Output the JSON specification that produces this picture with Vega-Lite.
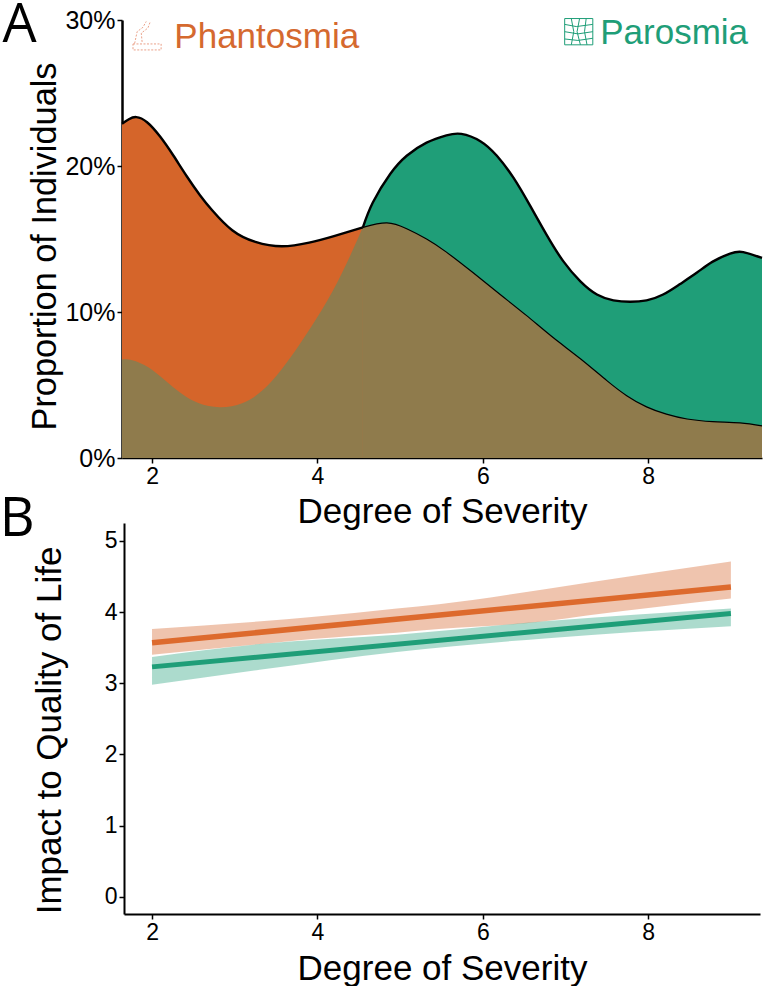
{"$schema":"https://vega.github.io/schema/vega-lite/v6.json","padding":{"left":-1,"top":-2,"right":0,"bottom":0},"background":"white","bounds":"flush","spacing":65,"config":{"font":"Liberation Sans","view":{"stroke":null},"axis":{"grid":false,"domainColor":"black","tickColor":"black","labelColor":"black","titleColor":"black","labelFont":"Liberation Sans","titleFont":"Liberation Sans","labelFontSize":23,"titleFontSize":35,"titleFontWeight":"normal","tickSize":5,"labelPadding":2}},"datasets":{"density":[{"part":"phL","x":1.637,"y":22.9},{"part":"phL","x":1.72,"y":23.2},{"part":"phL","x":1.81,"y":23.35},{"part":"phL","x":1.94,"y":23.0},{"part":"phL","x":2.1,"y":22.0},{"part":"phL","x":2.26,"y":20.7},{"part":"phL","x":2.42,"y":19.3},{"part":"phL","x":2.58,"y":18.0},{"part":"phL","x":2.73,"y":16.95},{"part":"phL","x":2.97,"y":15.6},{"part":"phL","x":3.25,"y":14.8},{"part":"phL","x":3.57,"y":14.5},{"part":"phL","x":3.9,"y":14.75},{"part":"phL","x":4.2,"y":15.2},{"part":"phL","x":4.55,"y":15.8},{"part":"paL","x":1.637,"y":6.75},{"part":"paL","x":1.76,"y":6.7},{"part":"paL","x":1.96,"y":6.2},{"part":"paL","x":2.16,"y":5.3},{"part":"paL","x":2.36,"y":4.4},{"part":"paL","x":2.56,"y":3.77},{"part":"paL","x":2.82,"y":3.48},{"part":"paL","x":3.09,"y":3.75},{"part":"paL","x":3.33,"y":4.6},{"part":"paL","x":3.57,"y":6.1},{"part":"paL","x":3.81,"y":8.0},{"part":"paL","x":4.06,"y":10.2},{"part":"paL","x":4.3,"y":12.7},{"part":"paL","x":4.55,"y":15.8},{"part":"paR","x":4.55,"y":15.8},{"part":"paR","x":4.67,"y":17.5},{"part":"paR","x":4.88,"y":19.45},{"part":"paR","x":5.08,"y":20.7},{"part":"paR","x":5.32,"y":21.6},{"part":"paR","x":5.56,"y":22.1},{"part":"paR","x":5.74,"y":22.2},{"part":"paR","x":5.97,"y":21.7},{"part":"paR","x":6.17,"y":20.7},{"part":"paR","x":6.37,"y":19.2},{"part":"paR","x":6.57,"y":17.3},{"part":"paR","x":6.77,"y":15.3},{"part":"paR","x":6.97,"y":13.5},{"part":"paR","x":7.18,"y":12.1},{"part":"paR","x":7.38,"y":11.2},{"part":"paR","x":7.58,"y":10.8},{"part":"paR","x":7.78,"y":10.7},{"part":"paR","x":7.98,"y":10.8},{"part":"paR","x":8.18,"y":11.2},{"part":"paR","x":8.38,"y":11.9},{"part":"paR","x":8.59,"y":12.7},{"part":"paR","x":8.78,"y":13.45},{"part":"paR","x":8.99,"y":14.0},{"part":"paR","x":9.15,"y":14.1},{"part":"paR","x":9.376,"y":13.7},{"part":"phR","x":4.55,"y":15.8},{"part":"phR","x":4.84,"y":16.1},{"part":"phR","x":5.08,"y":15.7},{"part":"phR","x":5.32,"y":15.0},{"part":"phR","x":5.56,"y":14.1},{"part":"phR","x":5.88,"y":12.7},{"part":"phR","x":6.21,"y":11.2},{"part":"phR","x":6.53,"y":9.75},{"part":"phR","x":6.85,"y":8.25},{"part":"phR","x":7.18,"y":6.8},{"part":"phR","x":7.5,"y":5.3},{"part":"phR","x":7.74,"y":4.27},{"part":"phR","x":7.98,"y":3.5},{"part":"phR","x":8.22,"y":3.0},{"part":"phR","x":8.47,"y":2.67},{"part":"phR","x":8.78,"y":2.49},{"part":"phR","x":9.11,"y":2.4},{"part":"phR","x":9.376,"y":2.2}],"impact":[{"x":2,"group":"Phantosmia","low":3.4,"high":3.76},{"x":3.32,"group":"Phantosmia","low":3.55,"high":3.87},{"x":3.93,"group":"Phantosmia","low":3.62,"high":3.93},{"x":4.96,"group":"Phantosmia","low":3.71,"high":4.05},{"x":5.47,"group":"Phantosmia","low":3.76,"high":4.11},{"x":6.75,"group":"Phantosmia","low":3.87,"high":4.32},{"x":7.26,"group":"Phantosmia","low":3.95,"high":4.41},{"x":9,"group":"Phantosmia","low":4.19,"high":4.71},{"x":2,"group":"Parosmia","low":2.98,"high":3.37},{"x":3.3,"group":"Parosmia","low":3.19,"high":3.55},{"x":4.96,"group":"Parosmia","low":3.44,"high":3.68},{"x":6.75,"group":"Parosmia","low":3.63,"high":3.87},{"x":9,"group":"Parosmia","low":3.8,"high":4.05}],"fit":[{"group":"Phantosmia","x":2,"mid":3.57},{"group":"Phantosmia","x":9,"mid":4.35},{"group":"Parosmia","x":2,"mid":3.23},{"group":"Parosmia","x":9,"mid":3.98}],"labelsA":[{"x":0.4,"y":28.5,"t":"A","c":"letter"},{"x":2.27,"y":28.08,"t":"Phantosmia","c":"Phantosmia"},{"x":7.42,"y":28.36,"t":"Parosmia","c":"Parosmia"}],"iconPar":[{"s":"h1","o":1,"x":6.99,"y":30.1},{"s":"h1","o":2,"x":7.33,"y":30.1},{"s":"h2","o":1,"x":6.99,"y":29.7},{"s":"h2","o":2,"x":7.13,"y":29.55},{"s":"h2","o":3,"x":7.33,"y":29.7},{"s":"h3","o":1,"x":6.99,"y":29.2},{"s":"h3","o":2,"x":7.15,"y":29.05},{"s":"h3","o":3,"x":7.33,"y":29.2},{"s":"h4","o":1,"x":6.99,"y":28.7},{"s":"h4","o":2,"x":7.15,"y":28.6},{"s":"h4","o":3,"x":7.33,"y":28.75},{"s":"h5","o":1,"x":6.99,"y":28.3},{"s":"h5","o":2,"x":7.33,"y":28.3},{"s":"v1","o":1,"x":6.99,"y":30.1},{"s":"v1","o":2,"x":6.99,"y":28.3},{"s":"v2","o":1,"x":7.07,"y":30.1},{"s":"v2","o":2,"x":7.1,"y":29.2},{"s":"v2","o":3,"x":7.07,"y":28.3},{"s":"v3","o":1,"x":7.17,"y":30.1},{"s":"v3","o":2,"x":7.14,"y":29.2},{"s":"v3","o":3,"x":7.18,"y":28.3},{"s":"v4","o":1,"x":7.25,"y":30.1},{"s":"v4","o":2,"x":7.23,"y":29.2},{"s":"v4","o":3,"x":7.26,"y":28.3},{"s":"v5","o":1,"x":7.33,"y":30.1},{"s":"v5","o":2,"x":7.33,"y":28.3}],"iconPha":[{"s":"a","o":1,"x":1.77,"y":28.36},{"s":"a","o":2,"x":2.11,"y":28.36},{"s":"a","o":3,"x":2.11,"y":27.95},{"s":"a","o":4,"x":1.77,"y":27.95},{"s":"a","o":5,"x":1.77,"y":28.36},{"s":"b","o":1,"x":1.79,"y":28.4},{"s":"b","o":2,"x":1.82,"y":29.2},{"s":"b","o":3,"x":1.89,"y":29.5},{"s":"b","o":4,"x":1.93,"y":29.9},{"s":"c","o":1,"x":1.88,"y":28.5},{"s":"c","o":2,"x":1.87,"y":29.1},{"s":"c","o":3,"x":1.95,"y":29.45},{"s":"c","o":4,"x":1.98,"y":29.9}],"labelB":[{"x":0.37,"y":5.07,"t":"B"}]},"vconcat":[{"width":640,"height":438,"layer":[{"data":{"name":"density"},"transform":[{"filter":"datum.part == 'phL'"}],"mark":{"type":"area","color":"#D5652A","interpolate":"natural"},"encoding":{"x":{"field":"x","type":"quantitative","scale":{"domain":[1.637,9.376],"nice":false,"zero":false},"axis":{"values":[2,4,6,8],"title":"Degree of Severity","format":"d","titlePadding":6,"domainWidth":1.5,"tickWidth":1.5,"labelPadding":2}},"y":{"field":"y","type":"quantitative","scale":{"domain":[0,30],"nice":false},"axis":{"values":[0,10,20,30],"labelExpr":"datum.value + '%'","title":"Proportion of Individuals","titleFontSize":34.3,"titleY":226,"titlePadding":2,"domainWidth":2.5,"tickWidth":1.5,"labelFontSize":25}}}},{"data":{"name":"density"},"transform":[{"filter":"datum.part == 'paR'"}],"mark":{"type":"area","color":"#1F9E78","interpolate":"natural"},"encoding":{"x":{"field":"x","type":"quantitative"},"y":{"field":"y","type":"quantitative"}}},{"data":{"name":"density"},"transform":[{"filter":"datum.part == 'paL'"}],"mark":{"type":"area","color":"#8F7B4C","interpolate":"natural"},"encoding":{"x":{"field":"x","type":"quantitative"},"y":{"field":"y","type":"quantitative"}}},{"data":{"name":"density"},"transform":[{"filter":"datum.part == 'phR'"}],"mark":{"type":"area","color":"#8F7B4C","interpolate":"natural"},"encoding":{"x":{"field":"x","type":"quantitative"},"y":{"field":"y","type":"quantitative"}}},{"data":{"name":"density"},"transform":[{"filter":"datum.part == 'phR'"}],"mark":{"type":"line","color":"black","strokeWidth":1.2,"interpolate":"natural"},"encoding":{"x":{"field":"x","type":"quantitative"},"y":{"field":"y","type":"quantitative"}}},{"data":{"name":"density"},"transform":[{"filter":"datum.part == 'phL'"}],"mark":{"type":"line","color":"black","strokeWidth":2.4,"interpolate":"natural"},"encoding":{"x":{"field":"x","type":"quantitative"},"y":{"field":"y","type":"quantitative"}}},{"data":{"name":"density"},"transform":[{"filter":"datum.part == 'paR'"}],"mark":{"type":"line","color":"black","strokeWidth":2.4,"interpolate":"natural"},"encoding":{"x":{"field":"x","type":"quantitative"},"y":{"field":"y","type":"quantitative"}}},{"data":{"name":"iconPar"},"mark":{"type":"line","color":"#1F9E78","strokeWidth":1,"clip":false},"encoding":{"x":{"field":"x","type":"quantitative"},"y":{"field":"y","type":"quantitative"},"detail":{"field":"s"},"order":{"field":"o"}}},{"data":{"name":"iconPha"},"mark":{"type":"line","color":"#E58A6C","strokeWidth":0.8,"strokeDash":[2,1.5],"clip":false},"encoding":{"x":{"field":"x","type":"quantitative"},"y":{"field":"y","type":"quantitative"},"detail":{"field":"s"},"order":{"field":"o"}}},{"data":{"name":"labelsA"},"transform":[{"filter":"datum.c == 'letter'"}],"mark":{"type":"text","font":"Open Sans","fontSize":54,"align":"center","baseline":"alphabetic","color":"black"},"encoding":{"x":{"field":"x","type":"quantitative"},"y":{"field":"y","type":"quantitative"},"text":{"field":"t"}}},{"data":{"name":"labelsA"},"transform":[{"filter":"datum.c == 'Phantosmia'"}],"mark":{"type":"text","fontSize":35,"align":"left","baseline":"alphabetic","color":"#D5692F"},"encoding":{"x":{"field":"x","type":"quantitative"},"y":{"field":"y","type":"quantitative"},"text":{"field":"t"}}},{"data":{"name":"labelsA"},"transform":[{"filter":"datum.c == 'Parosmia'"}],"mark":{"type":"text","fontSize":35,"align":"left","baseline":"alphabetic","color":"#1F9E78"},"encoding":{"x":{"field":"x","type":"quantitative"},"y":{"field":"y","type":"quantitative"},"text":{"field":"t"}}}]},{"width":640,"height":391,"layer":[{"data":{"name":"impact"},"transform":[{"filter":"datum.group == 'Phantosmia'"}],"mark":{"type":"area","color":"#D5652A","opacity":0.38,"interpolate":"monotone"},"encoding":{"x":{"field":"x","type":"quantitative","scale":{"domain":[1.661,9.352],"range":[2,638],"nice":false,"zero":false},"axis":{"values":[2,4,6,8],"title":"Degree of Severity","format":"d","titlePadding":7,"domainWidth":2,"tickWidth":1.5,"tickSize":5}},"y":{"field":"low","type":"quantitative","scale":{"domain":[-0.24,5.25],"nice":false,"zero":false},"axis":{"values":[0,1,2,3,4,5],"format":"d","title":"Impact to Quality of Life","titleY":207,"titlePadding":37,"domainWidth":2,"tickWidth":1.5,"tickSize":5,"offset":-2}},"y2":{"field":"high"}}},{"data":{"name":"impact"},"transform":[{"filter":"datum.group == 'Parosmia'"}],"mark":{"type":"area","color":"#1F9E78","opacity":0.37,"interpolate":"monotone"},"encoding":{"x":{"field":"x","type":"quantitative"},"y":{"field":"low","type":"quantitative"},"y2":{"field":"high"}}},{"data":{"name":"fit"},"transform":[{"filter":"datum.group == 'Phantosmia'"}],"mark":{"type":"line","color":"#DD6A2D","strokeWidth":5.5},"encoding":{"x":{"field":"x","type":"quantitative"},"y":{"field":"mid","type":"quantitative"}}},{"data":{"name":"fit"},"transform":[{"filter":"datum.group == 'Parosmia'"}],"mark":{"type":"line","color":"#1F9E78","strokeWidth":5},"encoding":{"x":{"field":"x","type":"quantitative"},"y":{"field":"mid","type":"quantitative"}}},{"data":{"name":"labelB"},"mark":{"type":"text","font":"Open Sans","fontSize":54,"align":"center","baseline":"alphabetic","color":"black"},"encoding":{"x":{"field":"x","type":"quantitative"},"y":{"field":"y","type":"quantitative"},"text":{"field":"t"}}}]}]}
